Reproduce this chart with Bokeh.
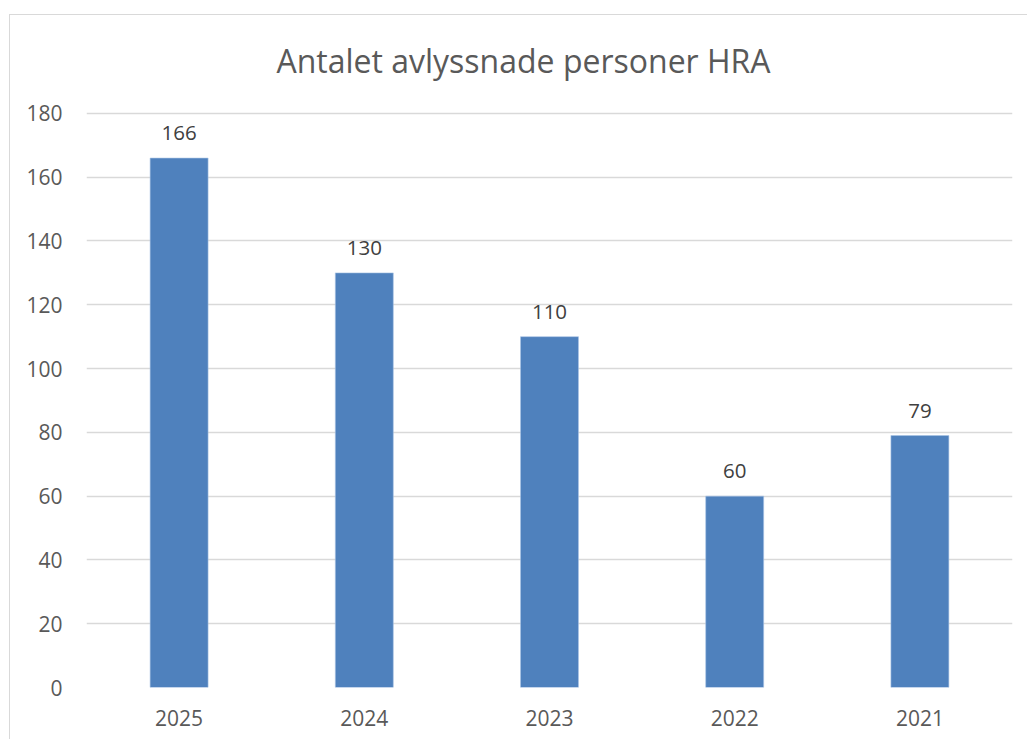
from bokeh.plotting import figure
from bokeh.models import ColumnDataSource, FixedTicker, Range1d, FactorRange, Label
from bokeh.core.properties import value
from bokeh.embed import file_html
from bokeh.resources import INLINE

years = ["2025", "2024", "2023", "2022", "2021"]
counts = [166, 130, 110, 60, 79]
y_ticks = [0, 20, 40, 60, 80, 100, 120, 140, 160, 180]
title_text = "Antalet avlyssnade personer HRA"

FONT = "Open Sans"

src = ColumnDataSource(dict(year=years, count=counts, label=[str(c) for c in counts]))

W, H = 1018, 725
# frame reaches the top of the canvas so the title label (drawn inside it) is not clipped;
# the visible value axis still ends at 180 through the fixed ticks
p = figure(
    x_range=FactorRange(*years, range_padding=0),
    y_range=Range1d(0, 210.7),
    width=W, height=H,
    output_backend="svg", toolbar_location=None,
    min_border_left=76, min_border_right=16, min_border_top=0, min_border_bottom=53,
)
p.margin = (14, 0, 0, 9)
p.styles = {"border-left": "1px solid #d9d9d9", "border-top": "1px solid #d9d9d9"}
p.outline_line_color = None
p.background_fill_color = "white"
p.border_fill_color = "white"

p.vbar(x="year", top="count", width=0.313, source=src,
       fill_color="#4F81BD", line_color="#a9c4e6", line_width=0.6)

p.text(x="year", y="count", text="label", source=src,
       text_font=value(FONT), text_font_size="20.5px", text_color="#404040",
       text_align="center", text_baseline="alphabetic", y_offset=-25)

# screen units are measured from the frame's bottom-left corner
title = Label(x=437, y=627, x_units="screen", y_units="screen", text=title_text,
              text_font=FONT, text_font_size="32px", text_color="#595959",
              text_align="center", text_baseline="alphabetic")
p.add_layout(title)

p.xgrid.grid_line_color = None
p.ygrid.grid_line_color = "#d9d9d9"
p.ygrid.grid_line_width = 1.3
p.yaxis.ticker = FixedTicker(ticks=y_ticks)

for ax in (p.xaxis[0], p.yaxis[0]):
    ax.axis_line_color = None
    ax.major_tick_line_color = None
    ax.minor_tick_line_color = None
    ax.major_label_text_font = FONT
    ax.major_label_text_font_size = "21px"
    ax.major_label_text_color = "#595959"

p.yaxis.major_label_standoff = 18
p.xaxis.major_label_standoff = 16

open("out.html", "w").write(file_html(p, INLINE))
